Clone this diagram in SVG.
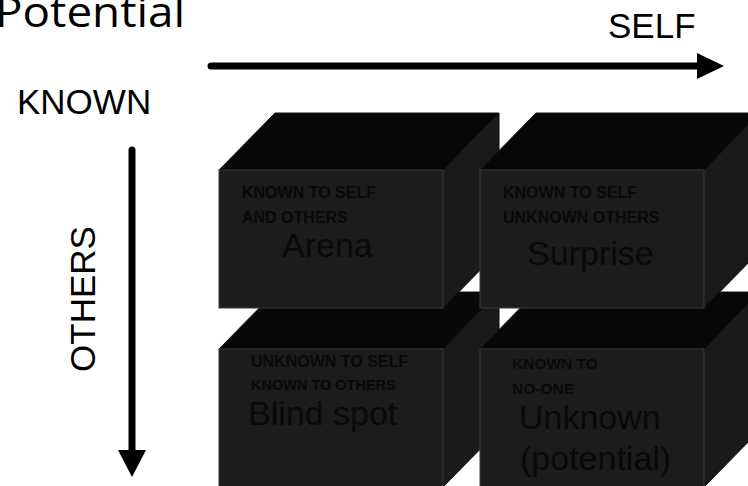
<svg xmlns="http://www.w3.org/2000/svg" width="748" height="486" viewBox="0 0 748 486">
<defs>
<style>
.top{fill:#080808;stroke:#151515;stroke-width:1}
.front{fill:#1c1c1c;stroke:#3a3a3a;stroke-width:1}
.side{fill:#1a1a1a;stroke:#0a0a0a;stroke-width:1}
.small{font-family:"Liberation Sans",Arial,sans-serif;font-weight:bold;font-size:16px;fill:#0a0a0a}
.big{font-family:"Liberation Sans",Arial,sans-serif;font-size:34px;fill:#0a0a0a}
.axis{font-family:"Liberation Sans",Arial,sans-serif;font-size:35px;fill:#000}
.arrow{stroke:#000;stroke-width:7;stroke-linecap:round;fill:none}
</style>
</defs>
<rect width="748" height="486" fill="#fff"/>
<g id="title">
<text x="-5" y="27" font-family="'Open Sans','DejaVu Sans',sans-serif" font-size="42" textLength="190" lengthAdjust="spacingAndGlyphs" fill="#000">Potential</text>
</g>
<g id="label-self"><text class="axis" x="608" y="38">SELF</text></g>
<g id="label-known"><text class="axis" x="17" y="114">KNOWN</text></g>
<g id="label-others"><text class="axis" x="95" y="299" text-anchor="middle" transform="rotate(-90 95 299)">OTHERS</text></g>
<g id="connectors">
<line class="arrow" x1="211" y1="66" x2="699" y2="66"/>
<polygon points="697,53 724,66 697,79" fill="#000"/>
<line class="arrow" x1="132" y1="150" x2="132" y2="452"/>
<polygon points="118,450 146,450 132,477" fill="#000"/>
</g>
<g id="blind-spot">
<polygon class="top" points="219,349 275,292 499,292 443,349"/>
<polygon class="side" points="443,349 499,292 499,430 443,487"/>
<rect class="front" x="219" y="349" width="224" height="140"/>
<text class="small" x="251" y="367">UNKNOWN TO SELF</text>
<text class="small" x="251" y="390" style="font-size:14.5px">KNOWN TO OTHERS</text>
<text class="big" x="248" y="425">Blind spot</text>
</g>
<g id="unknown">
<polygon class="top" points="480,349 536,292 760,292 704,349"/>
<polygon class="side" points="704,349 760,292 760,430 704,487"/>
<rect class="front" x="480" y="349" width="224" height="140"/>
<text class="small" x="512" y="369" style="font-size:15.5px">KNOWN TO</text>
<text class="small" x="512" y="394" style="font-size:15.5px">NO-ONE</text>
<text class="big" x="519" y="429">Unknown</text>
<text class="big" x="520" y="470">(potential)</text>
</g>
<g id="arena">
<polygon class="top" points="219,170 275,113 499,113 443,170"/>
<polygon class="side" points="443,170 499,113 499,251 443,308"/>
<rect class="front" x="219" y="170" width="224" height="138"/>
<text class="small" x="242" y="198">KNOWN TO SELF</text>
<text class="small" x="242" y="223">AND OTHERS</text>
<text class="big" x="282" y="257">Arena</text>
</g>
<g id="surprise">
<polygon class="top" points="480,170 536,113 760,113 704,170"/>
<polygon class="side" points="704,170 760,113 760,251 704,308"/>
<rect class="front" x="480" y="170" width="224" height="138"/>
<text class="small" x="503" y="198">KNOWN TO SELF</text>
<text class="small" x="503" y="223">UNKNOWN OTHERS</text>
<text class="big" x="527" y="265">Surprise</text>
</g>
</svg>
